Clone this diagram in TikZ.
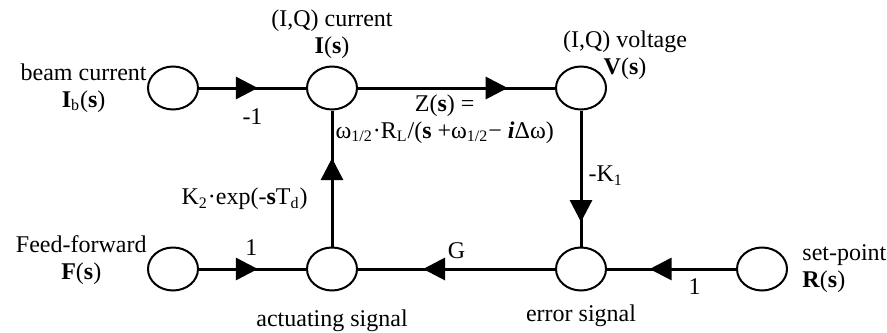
\documentclass[tikz,border=0pt]{standalone}
\usepackage{fontspec}
\setmainfont{Liberation Serif}
\usepackage{tikz}
\usetikzlibrary{shapes.geometric,arrows.meta,positioning,calc,decorations.markings}

\begin{document}
\begin{tikzpicture}[
    state/.style={ellipse, draw, line width=1pt, minimum width=25pt, minimum height=21.5pt, inner sep=0pt},
    flow/.style={line width=1.5pt, postaction={decorate},
        decoration={markings, mark=at position #1 with {\arrow{Triangle[length=11pt,width=11pt]}}}},
    flow/.default=0.5,
    lbl/.style={font=\fontsize{12pt}{13.5pt}\selectfont, inner sep=1pt}
]
\useasboundingbox (0,0) rectangle (443.5pt,-166pt);

% Top row
\node[state] (beam) at (86.5pt,-44pt) {};
\node[state, right=53.5pt of beam] (cur) {};
\node[state, right=98.5pt of cur] (volt) {};

% Bottom row
\node[state, below=68pt of volt] (err) {};
\node[state, left=98.5pt of err] (act) {};
\node[state, left=53.5pt of act] (ff) {};
\node[state, right=64.5pt of err] (sp) {};

% Signal names
\node[lbl, align=center, left=-1pt of beam] {beam current\\\textbf{I}\textsubscript{b}(\textbf{s})};
\node[lbl, align=center, above=2pt of cur] {(I,Q) current\\\textbf{I}(\textbf{s})};
\node[lbl, align=center] at ($(volt)+(22pt,16.5pt)$) {(I,Q) voltage\\\textbf{V}(\textbf{s})};
\node[lbl, align=center, left=-1pt of ff, yshift=4.5pt] {Feed-forward\\\textbf{F}(\textbf{s})};
\node[lbl, align=left, right=6pt of sp] {set-point\\\textbf{R}(\textbf{s})};
\node[lbl, below=8pt of act] {actuating signal};
\node[lbl, below=5.5pt of err] {error signal};

% Branches
\draw[flow=0.55] (beam) -- node[lbl, below=8.5pt] {-1} (cur);
\draw[flow=0.76] (cur) -- node[lbl, pos=0.44, below=1.5pt, align=center]
    {Z(\textbf{s}) =\\ω\textsubscript{1/2}·R\textsubscript{L}/(\textbf{s} +ω\textsubscript{1/2}− \textbf{\textit{i}}Δω)} (volt);
\draw[flow=0.82] (volt) -- node[lbl, pos=0.48, right=2pt] {-K\textsubscript{1}} (err);
\draw[flow=0.67] (err) -- node[lbl, above=3.5pt] {G} (act);
\draw[flow=0.67] (sp) -- node[lbl, pos=0.32, below=3pt] {1} (err);
\draw[flow=0.55] (ff) -- node[lbl, pos=0.49, above=5pt] {1} (act);
\draw[flow=0.65] (act) -- node[lbl, pos=0.35, left=10.5pt] {K\textsubscript{2}·exp(-\textbf{s}T\textsubscript{d})} (cur);

\end{tikzpicture}
\end{document}
